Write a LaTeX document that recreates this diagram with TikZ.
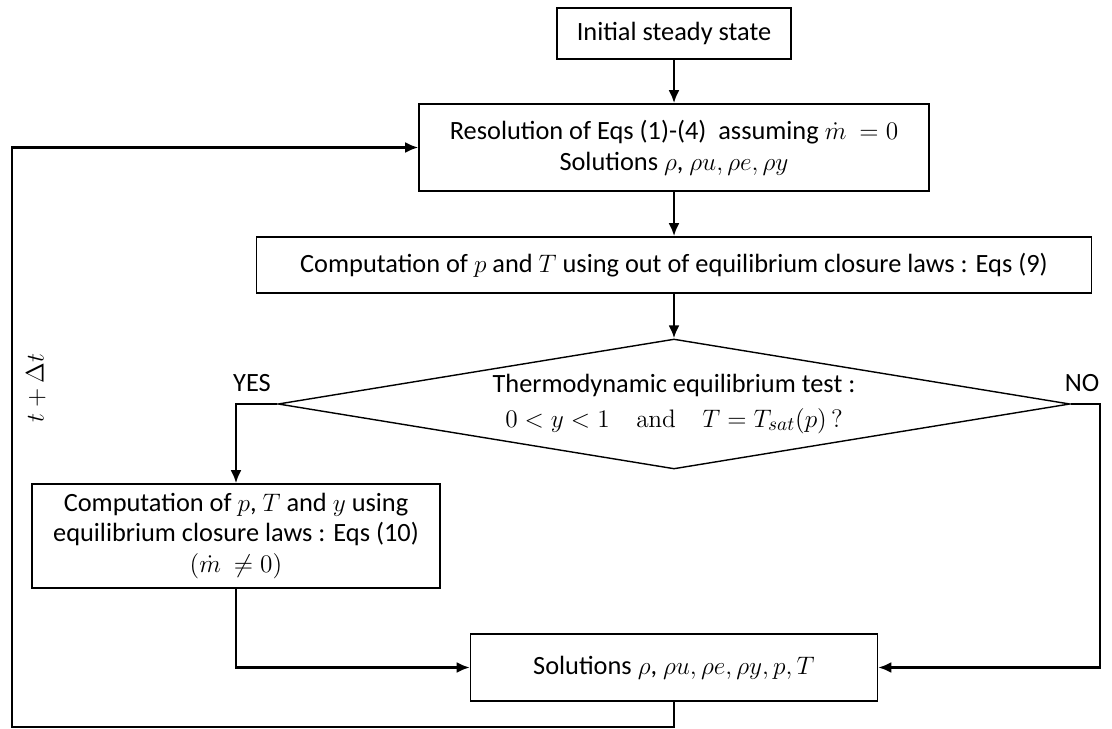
\documentclass[tikz,border=0pt]{standalone}
\usepackage[no-math]{fontspec}
\setmainfont{Carlito}
\usetikzlibrary{shapes.geometric,arrows.meta}
\begin{document}
\begin{tikzpicture}[x=.02cm, y=-.02cm, font=\fontsize{15}{17.5}\selectfont,
	box/.style={draw, line width=1pt, inner sep=0pt, align=center},
	test/.style={draw, diamond, aspect=6.1, line width=.8pt, inner sep=0pt, align=center,
		minimum width=15.84cm, minimum height=2.6cm},
	flow/.style={line width=1.3pt, -{Latex[length=2.6mm, width=2.2mm]}}]
	\useasboundingbox (0,0) rectangle (1112,729);
	\node[box, minimum width=4.68cm, minimum height=1.02cm] (init) at (674,33.5) {Initial steady state};
	\node[box, minimum width=10.2cm,  minimum height=1.74cm] (res)  at (674,147.5)
		{Resolution of Eqs (1)-(4)~ assuming $\dot{m}\ = 0$\\ Solutions $\rho$, $\rho u, \rho e, \rho y$};
	\node[box, minimum width=16.7cm,  minimum height=1.12cm] (comp) at (674,265)
		{Computation of $p$ and $T$ using out of equilibrium closure laws : Eqs (9)};
	\node[test] (dia) at (674,404)
		{Thermodynamic equilibrium test :\\[2pt] $0 < y < 1 \quad \mathrm{and} \quad T = T_{sat}(p)\,?$};
	\node[box, minimum width=8.16cm,  minimum height=2.08cm] (eqbox) at (236,536)
		{Computation of $p$, $T$ and $y$ using\\ equilibrium closure laws : Eqs (10)\\ $(\dot{m}\ \neq 0)$};
	\node[box, minimum width=8.14cm,  minimum height=1.34cm] (sol)  at (674,667.5)
		{Solutions $\rho$, $\rho u, \rho e, \rho y, p, T$};
	\node (yes) at (252,383) {YES};
	\node (no)  at (1082,383) {NO};
	\node[rotate=90] (dt) at (36,388) {$t + \Delta t$};
	\coordinate (noturn) at (1100,404);
	\coordinate (loop)   at (12,727);
	\draw[flow] (init) -- (res);
	\draw[flow] (res) -- (comp);
	\draw[flow] (comp) -- (dia);
	\draw[flow] (dia.west) -| (eqbox.north);
	\draw[flow] (dia.east) -- (noturn) |- (sol.east);
	\draw[flow] (eqbox.south) |- (sol.west);
	\draw[flow] (sol.south) |- (loop) |- (res.west);
\end{tikzpicture}
\end{document}
